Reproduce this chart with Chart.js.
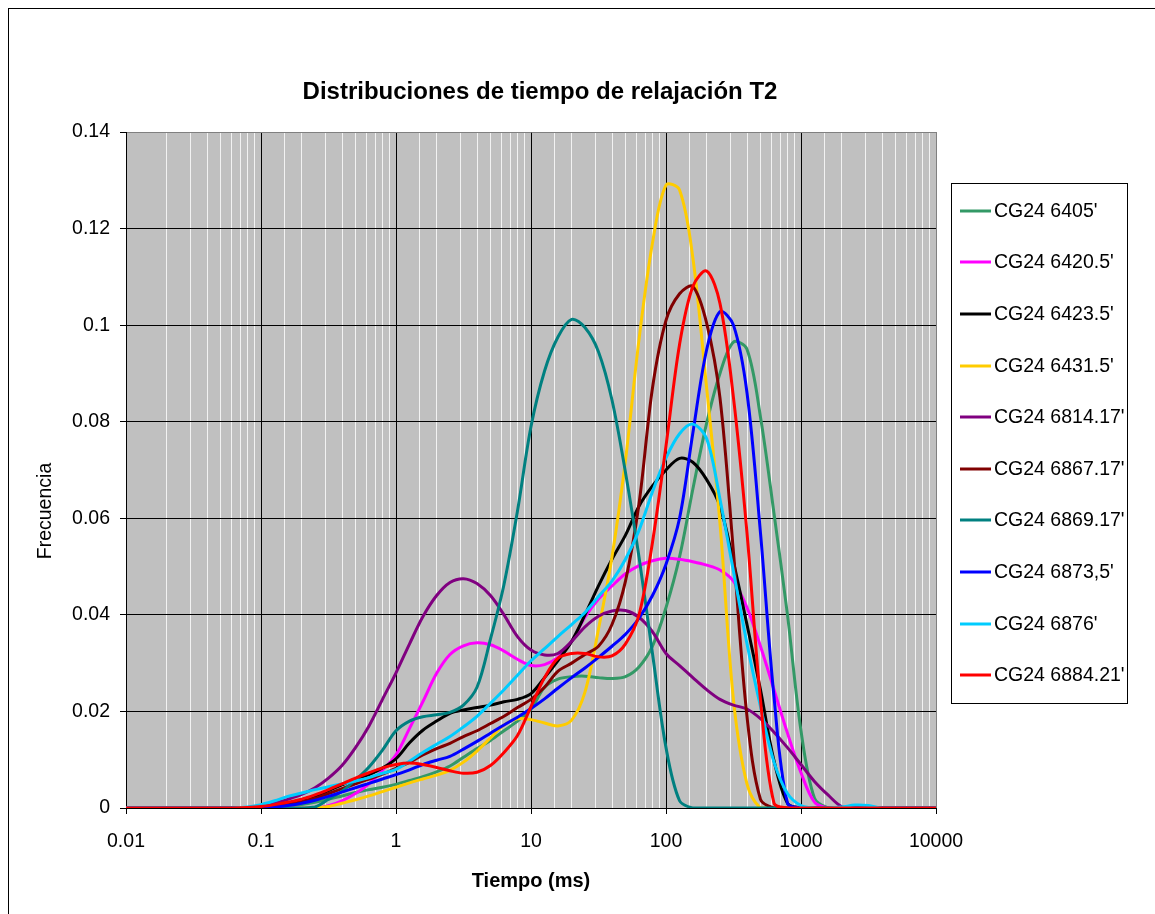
<!DOCTYPE html>
<html>
<head>
<meta charset="utf-8">
<title>Distribuciones de tiempo de relajación T2</title>
<script src="https://cdn.jsdelivr.net/npm/chart.js@4.4.0/dist/chart.umd.min.js"></script>
<style>
  html, body { margin: 0; padding: 0; background: #ffffff; }
  canvas { display: block; }
</style>
</head>
<body>
<canvas id="chart" width="1155" height="914"></canvas>
<script>
// T2 bins (ms), logarithmically spaced
const T2 = [0.01,
  0.0501, 0.0631, 0.0794, 0.1, 0.126, 0.158, 0.2, 0.251, 0.316, 0.398,
  0.501, 0.631, 0.794, 1, 1.26, 1.58, 2, 2.51, 3.16, 3.98,
  5.01, 6.31, 7.94, 10, 12.6, 15.8, 20, 25.1, 31.6, 39.8,
  50.1, 63.1, 79.4, 100, 126, 158, 200, 251, 316, 398,
  501, 631, 794, 1000, 1259, 1585, 1995, 2512, 3162, 3981,
  10000];

const sampleNames = ["CG24 6405'", "CG24 6420.5'", "CG24 6423.5'", "CG24 6431.5'", "CG24 6814.17'",
  "CG24 6867.17'", "CG24 6869.17'", "CG24 6873,5'", "CG24 6876'", "CG24 6884.21'"];

const sampleColors = ['#339966', '#FF00FF', '#000000', '#FFCC00', '#800080',
  '#800000', '#008080', '#0000FF', '#00CCFF', '#FF0000'];

// Frequency per bin for each sample
const cg6405 = [0,
  0, 0, 0, 0, 0, 0.0003, 0.0007, 0.0012, 0.0018, 0.0025,
  0.0032, 0.0038, 0.0043, 0.0049, 0.0057, 0.0065, 0.0075, 0.0087, 0.0105, 0.0123,
  0.014, 0.016, 0.018, 0.0205, 0.025, 0.0267, 0.0272, 0.0273, 0.027, 0.0268,
  0.0272, 0.0292, 0.0335, 0.0415, 0.052, 0.066, 0.0797, 0.090, 0.0965, 0.095,
  0.081, 0.061, 0.040, 0.016, 0.002, 0, 0, 0, 0, 0,
  0];
const cg6420 = [0,
  0, 0, 0, 0, 0, 0, 0, 0, 0.0005, 0.0015,
  0.003, 0.005, 0.0078, 0.011, 0.0165, 0.022, 0.0279, 0.0318, 0.0336, 0.0342,
  0.0338, 0.0325, 0.0308, 0.0295, 0.0297, 0.0312, 0.0345, 0.0395, 0.0433, 0.046,
  0.0485, 0.0502, 0.0512, 0.0517, 0.0515, 0.051, 0.0503, 0.0493, 0.047, 0.0415,
  0.0335, 0.0245, 0.0155, 0.0073, 0.0012, 0, 0, 0, 0, 0,
  0];
const cg6423 = [0,
  0, 0, 0, 0.0001, 0.0004, 0.001, 0.0017, 0.0025, 0.0036, 0.0048,
  0.006, 0.0069, 0.0083, 0.0102, 0.0135, 0.0161, 0.018, 0.0196, 0.0203, 0.0208,
  0.0213, 0.022, 0.0225, 0.0237, 0.027, 0.0305, 0.0345, 0.040, 0.046, 0.0515,
  0.0565, 0.0625, 0.0667, 0.070, 0.0724, 0.0716, 0.068, 0.0625, 0.051, 0.038,
  0.0245, 0.0098, 0.001, 0, 0, 0, 0, 0, 0, 0,
  0];
const cg6431 = [0,
  0, 0, 0, 0, 0, 0, 0, 0, 0.0003, 0.001,
  0.0017, 0.0025, 0.0034, 0.0043, 0.0052, 0.006, 0.0068, 0.0078, 0.0095, 0.0118,
  0.0145, 0.0172, 0.0185, 0.0183, 0.0176, 0.017, 0.0182, 0.024, 0.037, 0.052,
  0.072, 0.097, 0.117, 0.129, 0.128, 0.114, 0.087, 0.059, 0.0224, 0.005,
  0, 0, 0, 0, 0, 0, 0, 0, 0, 0,
  0];
const cg6814 = [0,
  0, 0, 0.0001, 0.0004, 0.001, 0.0018, 0.0028, 0.0042, 0.0062, 0.0088,
  0.0125, 0.017, 0.0225, 0.028, 0.034, 0.0396, 0.044, 0.0467, 0.0475, 0.0465,
  0.044, 0.040, 0.0355, 0.0327, 0.0317, 0.032, 0.0345, 0.0375, 0.0397, 0.0408,
  0.0409, 0.0395, 0.0365, 0.032, 0.0295, 0.027, 0.0245, 0.0225, 0.0213, 0.0205,
  0.0185, 0.0157, 0.0125, 0.009, 0.0055, 0.0027, 0.0003, 0, 0, 0,
  0];
const cg6867 = [0,
  0, 0, 0, 0, 0.0003, 0.0007, 0.0012, 0.002, 0.003, 0.004,
  0.005, 0.006, 0.007, 0.0082, 0.0095, 0.011, 0.0123, 0.0134, 0.0148, 0.016,
  0.0175, 0.019, 0.0208, 0.0225, 0.025, 0.0283, 0.030, 0.0318, 0.0335, 0.038,
  0.047, 0.063, 0.087, 0.101, 0.1065, 0.108, 0.1004, 0.085, 0.053, 0.019,
  0.0018, 0, 0, 0, 0, 0, 0, 0, 0, 0,
  0];
const cg6869 = [0,
  0, 0, 0, 0, 0, 0, 0, 0.0002, 0.0018, 0.0035,
  0.0058, 0.0085, 0.012, 0.016, 0.018, 0.0189, 0.0193, 0.0198, 0.0213, 0.025,
  0.035, 0.0463, 0.0615, 0.079, 0.0905, 0.0975, 0.1012, 0.0995, 0.0945, 0.0845,
  0.0695, 0.052, 0.032, 0.0125, 0.0015, 0, 0, 0, 0, 0,
  0, 0, 0, 0, 0, 0, 0, 0, 0, 0,
  0];
const cg6873 = [0,
  0, 0, 0, 0, 0.0002, 0.0005, 0.001, 0.0016, 0.0024, 0.0033,
  0.0042, 0.0051, 0.006, 0.0069, 0.0079, 0.009, 0.0099, 0.0107, 0.0122, 0.0138,
  0.0155, 0.0172, 0.0188, 0.0206, 0.0226, 0.0248, 0.027, 0.029, 0.0312, 0.0335,
  0.036, 0.0393, 0.044, 0.0505, 0.060, 0.0776, 0.0949, 0.1028, 0.100, 0.086,
  0.057, 0.023, 0.001, 0, 0, 0, 0, 0, 0, 0,
  0];
const cg6876 = [0,
  0, 0, 0.0002, 0.0007, 0.0015, 0.0024, 0.0031, 0.0038, 0.0044, 0.005,
  0.0056, 0.0063, 0.0072, 0.008, 0.0097, 0.0115, 0.0132, 0.0148, 0.0168, 0.019,
  0.0217, 0.0245, 0.0275, 0.0305, 0.033, 0.0355, 0.038, 0.0405, 0.0438, 0.047,
  0.0515, 0.0575, 0.0655, 0.0725, 0.0775, 0.0795, 0.0765, 0.064, 0.049, 0.034,
  0.021, 0.0095, 0.003, 0.0005, 0, 0, 0.0002, 0.0006, 0.0005, 0,
  0];
const cg6884 = [0,
  0, 0, 0.0001, 0.0003, 0.0007, 0.0012, 0.0018, 0.0027, 0.0038, 0.005,
  0.0062, 0.0073, 0.0083, 0.009, 0.0093, 0.009, 0.0084, 0.0077, 0.0072, 0.0074,
  0.0088, 0.0115, 0.015, 0.021, 0.027, 0.031, 0.032, 0.032, 0.0313, 0.0315,
  0.034, 0.040, 0.055, 0.075, 0.096, 0.108, 0.1112, 0.1045, 0.085, 0.057,
  0.0224, 0.001, 0, 0, 0, 0, 0, 0, 0, 0,
  0];

const sampleValues = [cg6405, cg6420, cg6423, cg6431, cg6814, cg6867, cg6869, cg6873, cg6876, cg6884];

const FONT = "'Liberation Sans', Arial, Helvetica, sans-serif";

function isDecade(v) {
  const l = Math.log10(v);
  return Math.abs(l - Math.round(l)) < 1e-6;
}
function fmtDecade(v) {
  return String(Number(v.toPrecision(6)));
}

// White page, outer frame and grey plot background
const framePlugin = {
  id: 'frame',
  beforeDraw(chart) {
    const { ctx, chartArea: a } = chart;
    ctx.save();
    ctx.fillStyle = '#ffffff';
    ctx.fillRect(0, 0, chart.width, chart.height);
    ctx.strokeStyle = '#000000';
    ctx.lineWidth = 1;
    ctx.strokeRect(8.5, 8.5, chart.width, chart.height);
    ctx.fillStyle = '#C0C0C0';
    ctx.fillRect(a.left, a.top, a.right - a.left, a.bottom - a.top);
    ctx.restore();
  }
};

// Vertical axis caption
const yCaption = {
  id: 'yCaption',
  afterDraw(chart) {
    const { ctx } = chart;
    ctx.save();
    ctx.translate(46, 511);
    ctx.rotate(-Math.PI / 2);
    ctx.font = '19.5px ' + FONT;
    ctx.fillStyle = '#000000';
    ctx.textAlign = 'center';
    ctx.textBaseline = 'middle';
    ctx.fillText('Frecuencia', 0, 0);
    ctx.restore();
  }
};

// Boxed legend on the right side
const boxLegend = {
  id: 'boxLegend',
  afterDraw(chart) {
    const { ctx } = chart;
    const sets = chart.data.datasets;
    const box = { x: 951.5, y: 183.5, w: 176, h: 520 };
    const firstY = 210.7, step = 51.6;
    ctx.save();
    ctx.fillStyle = '#ffffff';
    ctx.fillRect(box.x, box.y, box.w, box.h);
    ctx.strokeStyle = '#000000';
    ctx.lineWidth = 1;
    ctx.strokeRect(box.x, box.y, box.w, box.h);
    ctx.font = '19.5px ' + FONT;
    ctx.textBaseline = 'middle';
    ctx.textAlign = 'left';
    sets.forEach((ds, i) => {
      const y = Math.round(firstY + step * i);
      ctx.strokeStyle = ds.borderColor;
      ctx.lineWidth = 3;
      ctx.beginPath();
      ctx.moveTo(960, y);
      ctx.lineTo(991, y);
      ctx.stroke();
      ctx.fillStyle = '#000000';
      ctx.fillText(ds.label, 994, y + 1);
    });
    ctx.restore();
  }
};

const datasets = sampleNames.map((name, i) => ({
  label: name,
  data: T2.map((t, j) => ({ x: t, y: sampleValues[i][j] })),
  borderColor: sampleColors[i],
  backgroundColor: sampleColors[i],
  borderWidth: 3,
  pointRadius: 0,
  pointHoverRadius: 0,
  fill: false,
  tension: 0.33,
  order: sampleNames.length - 1 - i
}));

new Chart(document.getElementById('chart').getContext('2d'), {
  type: 'line',
  data: { datasets },
  options: {
    responsive: false,
    animation: false,
    devicePixelRatio: 1,
    layout: { padding: { left: 0, right: 75, top: 0, bottom: 0 } },
    plugins: {
      legend: { display: false },
      tooltip: { enabled: false },
      title: {
        display: true,
        text: 'Distribuciones de tiempo de relajación T2',
        color: '#000000',
        font: { family: FONT, size: 24, weight: 'bold', lineHeight: 1.2 },
        padding: { top: 78, bottom: 25.2 }
      }
    },
    scales: {
      x: {
        type: 'logarithmic',
        position: 'bottom',
        min: 0.01,
        max: 10000,
        afterFit(scale) { scale.height = 106; },
        border: { display: true, color: '#000000', width: 1 },
        grid: {
          lineWidth: 1,
          drawTicks: true,
          tickLength: 6,
          color(c) {
            const v = c.tick ? c.tick.value : 0;
            if (v >= 10000) return '#808080';
            return isDecade(v) ? '#000000' : '#F2F2F2';
          },
          tickColor(c) {
            const v = c.tick ? c.tick.value : 0;
            return isDecade(v) ? '#000000' : 'rgba(0,0,0,0)';
          }
        },
        ticks: {
          autoSkip: false,
          maxRotation: 0,
          minRotation: 0,
          padding: 16,
          color: '#000000',
          font: { family: FONT, size: 19.5 },
          callback(v) { return isDecade(v) ? fmtDecade(v) : ''; }
        },
        title: {
          display: true,
          text: 'Tiempo (ms)',
          color: '#000000',
          font: { family: FONT, size: 20, weight: 'bold', lineHeight: 1.2 },
          padding: { top: 0, bottom: 21 }
        }
      },
      y: {
        type: 'linear',
        position: 'left',
        min: 0,
        max: 0.14,
        afterFit(scale) { scale.width = 126; },
        border: { display: true, color: '#000000', width: 1 },
        grid: {
          lineWidth: 1,
          drawTicks: true,
          tickLength: 6,
          tickColor: '#000000',
          color(c) {
            const v = c.tick ? c.tick.value : 0;
            return v > 0.139 ? '#808080' : '#000000';
          }
        },
        ticks: {
          stepSize: 0.02,
          padding: 10,
          color: '#000000',
          font: { family: FONT, size: 19.5 },
          callback(v) { return String(Number(v.toFixed(2))); }
        }
      },
      yRight: {
        type: 'linear',
        position: 'right',
        display: true,
        afterFit(scale) { scale.width = 144; },
        border: { display: false },
        grid: { display: false, drawTicks: false },
        ticks: { display: false }
      }
    }
  },
  plugins: [framePlugin, yCaption, boxLegend]
});
</script>
</body>
</html>
